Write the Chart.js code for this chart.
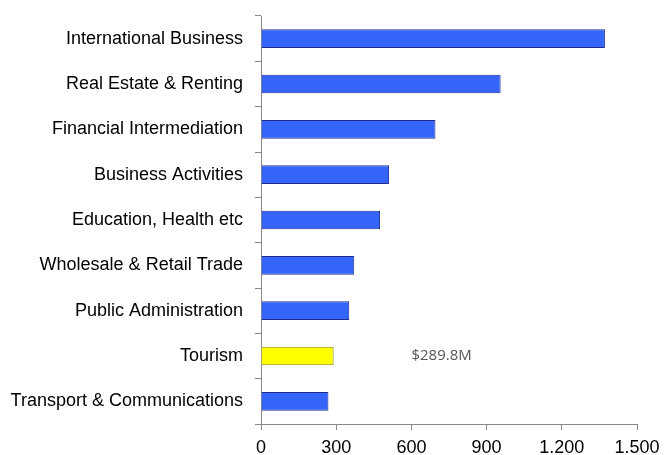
<!DOCTYPE html>
<html>
<head>
<meta charset="utf-8">
<script src="https://cdn.jsdelivr.net/npm/chart.js@4"></script>
<style>
  html, body { margin: 0; padding: 0; background: #fff; }
  #wrap { width: 664px; height: 455px; }
</style>
</head>
<body>
<div id="wrap"><canvas id="gdpChart" width="664" height="455"></canvas></div>
<script>
// --- DATA ---
const sectors = [
    "International Business",
    "Real Estate & Renting",
    "Financial Intermediation",
    "Business Activities",
    "Education, Health etc",
    "Wholesale & Retail Trade",
    "Public Administration",
    "Tourism",
    "Transport & Communications"
];
const sectorValues = [1372, 956, 696, 511, 475, 372, 352, 289.8, 269];
const highlightSector = "Tourism";
const highlightLabel = "$289.8M";
const highlightLabelAt = 600;
const xTicks = [0, 300, 600, 900, 1200, 1500];

const barColors = sectors.map(s => s === highlightSector ? '#ffff00' : '#3564fb');
const barBorders = sectors.map(s => s === highlightSector ? '#8a8a20' : '#1d2f8a');

// small plugin for the callout text next to the highlighted bar
const calloutPlugin = {
    id: 'callout',
    afterDatasetsDraw(chart) {
        const ctx = chart.ctx;
        const x = chart.scales.x.getPixelForValue(highlightLabelAt);
        const y = chart.scales.y.getPixelForValue(sectors.indexOf(highlightSector));
        ctx.save();
        ctx.font = '15px "Open Sans", Calibri, sans-serif';
        ctx.fillStyle = '#555555';
        ctx.textAlign = 'left';
        ctx.textBaseline = 'middle';
        ctx.fillText(highlightLabel, x, y);
        ctx.restore();
    }
};

const labelFont = { family: '"Liberation Sans", Arial, sans-serif', size: 18 };

// fixed axis boxes so the plot area lines up with the original
function fixX(s) {
    s.height = 31;
    s.paddingLeft = 0;
    s.paddingRight = 0;
}
function fixY(s) {
    s.width = 261;
    s.paddingTop = 0;
    s.paddingBottom = 0;
}

const ctx = document.getElementById('gdpChart').getContext('2d');
new Chart(ctx, {
    type: 'bar',
    data: {
        labels: sectors,
        datasets: [{
            data: sectorValues,
            backgroundColor: barColors,
            borderColor: barBorders,
            borderWidth: 1,
            barPercentage: 0.41,
            categoryPercentage: 1
        }]
    },
    options: {
        indexAxis: 'y',
        responsive: false,
        animation: false,
        layout: { padding: { top: 16, right: 27, bottom: 0, left: 0 } },
        plugins: {
            legend: { display: false },
            tooltip: { enabled: false }
        },
        scales: {
            x: {
                min: 0,
                max: 1500,
                afterBuildTicks: (s) => { s.ticks = xTicks.map(v => ({ value: v })); },
                afterFit: fixX,
                grid: { drawOnChartArea: false, tickLength: 6, color: '#888888' },
                border: { color: '#888888' },
                ticks: {
                    color: '#000',
                    padding: 7,
                    font: labelFont,
                    callback: (v) => v.toLocaleString('de-DE')
                }
            },
            y: {
                afterFit: fixY,
                grid: { drawOnChartArea: false, tickLength: 6, color: '#888888', offset: true },
                border: { color: '#888888' },
                ticks: {
                    color: '#000',
                    padding: 12,
                    font: labelFont
                }
            }
        }
    },
    plugins: [calloutPlugin]
});
</script>
</body>
</html>
